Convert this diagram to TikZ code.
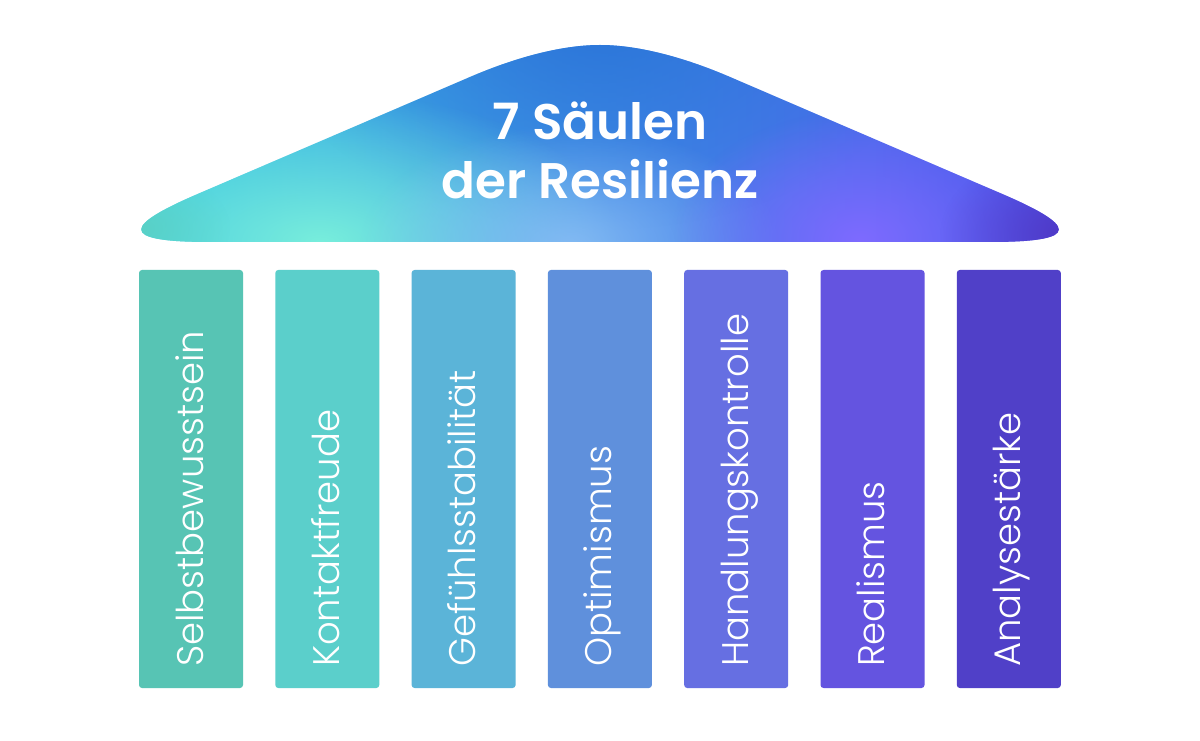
\documentclass[tikz,border=0pt]{standalone}
\usepackage{fontspec}
\usetikzlibrary{fadings}
\IfFontExistsTF{Poppins Light}
  {\newfontfamily\pillarfont{Poppins Light}}
  {\newfontfamily\pillarfont{Poppins}}
\IfFontExistsTF{Poppins SemiBold}
  {\newfontfamily\titlefont{Poppins SemiBold}}
  {\newfontfamily\titlefont{Poppins}[FakeBold=2]}
\definecolor{p1}{HTML}{57C4B4}
\definecolor{p2}{HTML}{5BCFCB}
\definecolor{p3}{HTML}{5BB4D8}
\definecolor{p4}{HTML}{5F90DC}
\definecolor{p5}{HTML}{666FE2}
\definecolor{p6}{HTML}{6454E0}
\definecolor{p7}{HTML}{5040C8}
\definecolor{rleft}{HTML}{34CBE0}
\definecolor{rmid}{HTML}{3A86E6}
\definecolor{rright}{HTML}{5050EE}
\definecolor{rtop}{HTML}{2A74D8}
\definecolor{rmint}{HTML}{78EEDC}
\definecolor{rlight}{HTML}{8CBEF6}
\definecolor{rviolet}{HTML}{7E6AFF}
\definecolor{rdark}{HTML}{5038C4}
\definecolor{rteal}{HTML}{5CCFC0}
\tikzfading[name=softglow, inner color=transparent!0, outer color=transparent!100]
\tikzset{
  pillar/.style={fill=#1, rounded corners=3pt},
  pillartext/.style={text=white, rotate=90, anchor=base west, inner sep=0pt,
    font=\pillarfont\fontsize{37}{37}\selectfont},
  titletext/.style={text=white, inner sep=0pt, anchor=base,
    font=\titlefont\fontsize{50}{50}\selectfont},
  glow/.style={fill=#1, path fading=softglow}
}
\begin{document}
\begin{tikzpicture}[x=1pt,y=1pt]
\useasboundingbox[fill=white] (0,0) rectangle (1200,740);
% roof
\begin{scope}
  \clip (210,498) .. controls (115,498) and (125,515) .. (200,547)
        -- (470,663) .. controls (520,684.5) and (565,695) .. (600,695)
        .. controls (635,695) and (680,684.5) .. (730,663)
        -- (1000,547) .. controls (1075,515) and (1085,498) .. (990,498) -- cycle;
  \shade[left color=rleft, middle color=rmid, right color=rright] (130,490) rectangle (1070,730);
  \fill[glow=rtop] (600,730) ellipse [x radius=340, y radius=220];
  \fill[glow=rmint] (320,498) ellipse [x radius=300, y radius=150];
  \fill[glow=rteal, opacity=0.8] (140,512) ellipse [x radius=90, y radius=60];
  \fill[glow=rlight, opacity=0.85] (570,495) ellipse [x radius=210, y radius=120];
  \fill[glow=rviolet] (860,500) ellipse [x radius=190, y radius=130];
  \fill[glow=rdark] (1070,505) ellipse [x radius=130, y radius=90];
\end{scope}
\node[titletext] (t1) at (600,600) {7 Säulen};
\node[titletext] (t2) at (600,541) {der Resilienz};
% pillars
\foreach \i/\c/\t in {0/p1/Selbstbewusstsein, 1/p2/Kontaktfreude, 2/p3/Gefühlsstabilität,
  3/p4/Optimismus, 4/p5/Handlungskontrolle, 5/p6/Realismus, 6/p7/Analysestärke}{
  \pgfmathsetmacro{\xl}{139+136.3*\i}
  \path[pillar=\c] (\xl,52) rectangle ++(104,418);
  \node[pillartext] (l\i) at (\xl+64,73) {\t};
}
\end{tikzpicture}
\end{document}
